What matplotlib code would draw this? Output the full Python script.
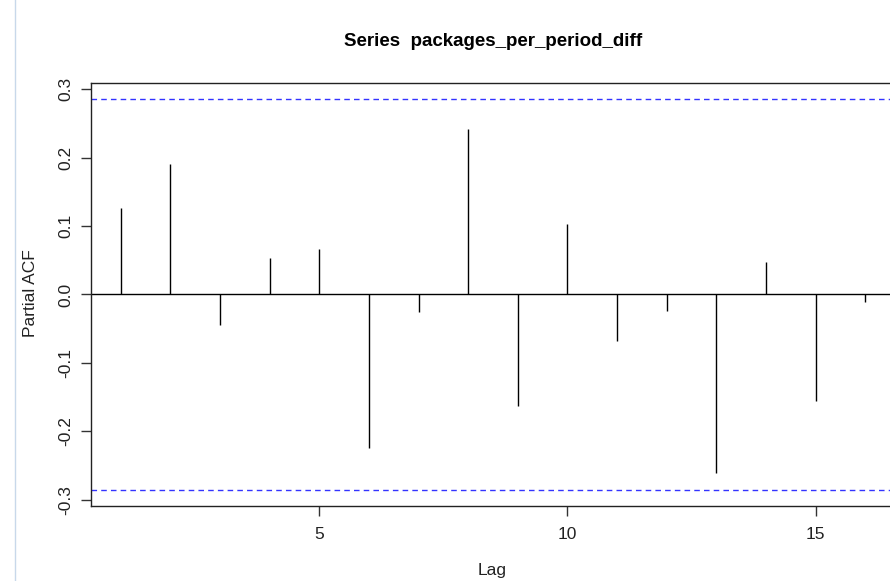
import matplotlib
matplotlib.use("Agg")
import matplotlib.pyplot as plt
from matplotlib.lines import Line2D

plt.rcParams['font.family'] = ['Liberation Sans', 'DejaVu Sans']

lags = list(range(1, 17))
pacf = [0.126, 0.191, -0.044, 0.054, 0.067, -0.224, -0.026, 0.241,
        -0.163, 0.103, -0.068, -0.024, -0.260, 0.048, -0.155, -0.011]
conf = 0.2859
yticks = [-0.3, -0.2, -0.1, 0.0, 0.1, 0.2, 0.3]
yticklabels = ["-0.3", "-0.2", "-0.1", "0.0", "0.1", "0.2", "0.3"]
xticks = [5, 10, 15]

W, H = 890, 581
fig = plt.figure(figsize=(W / 100, H / 100), dpi=100)
fig.patch.set_facecolor("white")

left, right, top, bottom = 91, 895, 83, 506
ax = fig.add_axes([left / W, 1 - bottom / H, (right - left) / W, (bottom - top) / H])
ax.set_xlim(0.4, 16.6)
ax.set_ylim(-0.3088, 0.3088)

ax.vlines(lags, 0, pacf, colors="black", linewidth=1.0)
ax.axhline(0, color="black", linewidth=1.0)
ax.axhline(conf, color="#3333ff", linestyle=(0, (4, 3)), linewidth=1.0)
ax.axhline(-conf, color="#3333ff", linestyle=(0, (4, 3)), linewidth=1.0)

for s in ax.spines.values():
    s.set_color("#222222")
    s.set_linewidth(1.0)

fs = 12.5
ax.set_yticks(yticks)
ax.set_yticklabels(yticklabels, rotation=90, va="center", fontsize=fs, color="#222222")
ax.set_xticks(xticks)
ax.set_xticklabels([str(t) for t in xticks], fontsize=fs, color="#222222")
ax.tick_params(axis="both", length=7, width=1, color="#333333")
ax.tick_params(axis="x", pad=8)
ax.tick_params(axis="y", pad=6)

fig.text(492 / W, 1 - 570 / H, "Lag", ha="center", va="center",
         fontsize=fs, color="#222222")
fig.text(31 / W, 1 - 293 / H, "Partial ACF", ha="center", va="center",
         rotation=90, fontsize=fs, color="#222222")

fig.text(493 / W, 1 - 42 / H, "Series  packages_per_period_diff",
         ha="center", va="center", fontsize=13.5, fontweight="bold", color="black")

fig.add_artist(Line2D([15 / W, 15 / W], [0, 1], transform=fig.transFigure,
                      color="#c8d8ea", linewidth=1.0))

fig.savefig("out.png", dpi=100, facecolor="white")
